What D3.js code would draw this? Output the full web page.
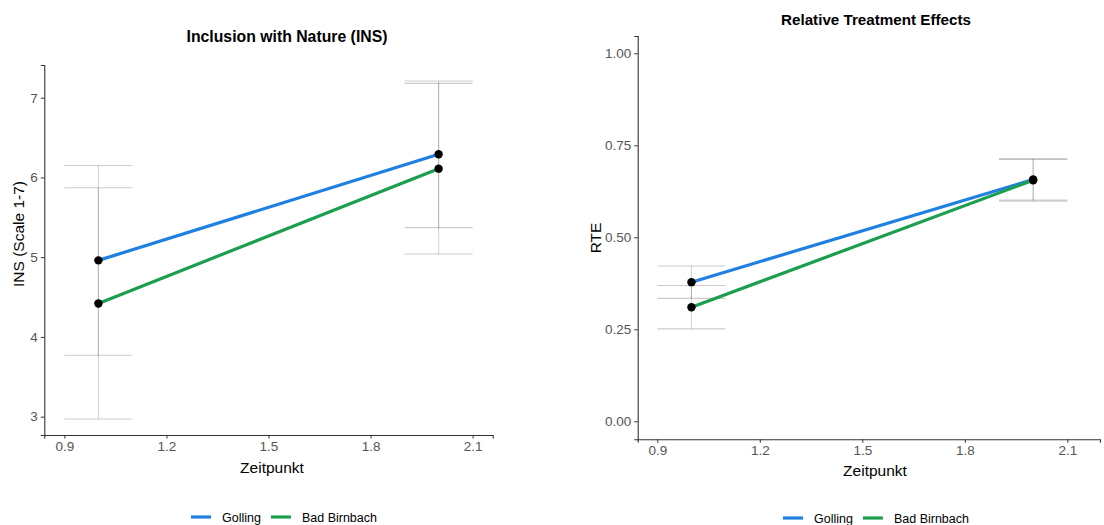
<!DOCTYPE html>
<html>
<head>
<meta charset="utf-8">
<script src="https://cdn.jsdelivr.net/npm/d3@7"></script>
<style>
  body { margin: 0; background: #fff; }
  svg { display: block; font-family: "Liberation Sans", Arial, sans-serif; }
</style>
</head>
<body>
<svg id="chart" width="1104" height="525"></svg>
<script>
// Measurement occasions
const timepoints = [1, 2];
const groups = ["Golling", "Bad Birnbach"];
const groupColors = ["#1f80e2", "#1b9f4f"];

// Inclusion with Nature (INS), means and error half-widths
const insGolling = [4.96, 6.29];
const insBadBirnbach = [4.42, 6.11];
const insGollingErr = [1.19, 0.92];
const insBadBirnbachErr = [1.45, 1.07];

// Relative treatment effects (RTE)
const rteGolling = [0.378, 0.657];
const rteBadBirnbach = [0.310, 0.655];
const rteGollingErr = [0.044, 0.056];
const rteBadBirnbachErr = [0.059, 0.057];

const xTicks = [0.9, 1.2, 1.5, 1.8, 2.1];
const insTicks = [3, 4, 5, 6, 7];
const rteTicks = [0, 0.25, 0.5, 0.75, 1];

const svg = d3.select("#chart");

function panel(cfg) {
  const x = d3.scaleLinear().domain(cfg.xDomain).range(cfg.xRange);
  const y = d3.scaleLinear().domain(cfg.yDomain).range(cfg.yRange);
  const g = svg.append("g");
  const bottom = cfg.yRange[0];
  const left = cfg.xRange[0];

  // error bars (caps 0.2 wide), semi-transparent grey
  cfg.series.forEach(s => {
    timepoints.forEach((t, i) => {
      const lo = s.values[i] - s.err[i], hi = s.values[i] + s.err[i];
      const eb = g.append("g").attr("stroke", "#000").attr("stroke-opacity", 0.2).attr("stroke-width", 1.1);
      eb.append("line").attr("x1", x(t)).attr("x2", x(t)).attr("y1", y(lo)).attr("y2", y(hi))
        .attr("stroke-opacity", 0.16);
      eb.append("line").attr("x1", x(t - 0.1)).attr("x2", x(t + 0.1)).attr("y1", y(hi)).attr("y2", y(hi));
      eb.append("line").attr("x1", x(t - 0.1)).attr("x2", x(t + 0.1)).attr("y1", y(lo)).attr("y2", y(lo));
    });
  });

  // group lines
  const line = d3.line().x((d, i) => x(timepoints[i])).y(d => y(d));
  cfg.series.forEach((s, k) => {
    g.append("path").datum(s.values).attr("d", line)
      .attr("fill", "none").attr("stroke", groupColors[k]).attr("stroke-width", 3.2)
      .attr("stroke-linecap", "butt");
  });

  // points
  cfg.series.forEach(s => {
    g.selectAll(null).data(s.values).enter().append("circle")
      .attr("cx", (d, i) => x(timepoints[i])).attr("cy", d => y(d)).attr("r", 4.2).attr("fill", "#000");
  });

  // axes
  const xAxis = g.append("g").attr("transform", `translate(0,${bottom})`)
    .call(d3.axisBottom(x).tickValues(xTicks).tickFormat(d3.format(".1f")).tickSize(3.5).tickPadding(3));
  const yAxis = g.append("g").attr("transform", `translate(${left},0)`)
    .call(d3.axisLeft(y).tickValues(cfg.yTicks).tickFormat(cfg.yFormat).tickSize(3.5).tickPadding(3));
  [xAxis, yAxis].forEach(a => {
    a.attr("font-size", 13.5).attr("font-family", "Liberation Sans, Arial, sans-serif");
    a.select(".domain").attr("stroke", "#333").attr("stroke-width", 1.1);
    a.selectAll(".tick line").attr("stroke", "#333");
    a.selectAll(".tick text").attr("fill", "#555").style("font-size", "13.5px");
  });

  // titles
  g.append("text").attr("x", cfg.titleX).attr("y", cfg.titleY).attr("text-anchor", "middle")
    .attr("font-weight", "bold").attr("font-size", cfg.titleSize).attr("fill", "#000").text(cfg.title);
  g.append("text").attr("x", cfg.xTitleX).attr("y", cfg.xTitleY).attr("text-anchor", "middle")
    .attr("font-size", 15.5).attr("fill", "#000").text("Zeitpunkt");
  g.append("text").attr("transform", `translate(${cfg.yTitleX},${cfg.yTitleY}) rotate(-90)`)
    .attr("text-anchor", "middle").attr("font-size", 15.5).attr("fill", "#000").text(cfg.yTitle);

  // legend
  const lg = g.append("g").attr("transform", `translate(${cfg.legendX},${cfg.legendY})`);
  let off = 0;
  groups.forEach((name, k) => {
    lg.append("line").attr("x1", off).attr("x2", off + 20).attr("y1", 0).attr("y2", 0)
      .attr("stroke", groupColors[k]).attr("stroke-width", 3.2);
    const t = lg.append("text").attr("x", off + 31).attr("y", 4.5).attr("font-size", 12.5)
      .attr("fill", "#000").text(name);
    off += 31 + t.node().getComputedTextLength() + 10;
  });
}

panel({
  xDomain: [0.841, 2.159], xRange: [44.3, 492.7],
  yDomain: [2.77, 7.41], yRange: [435, 65],
  yTicks: insTicks, yFormat: d3.format("d"),
  series: [
    { values: insGolling, err: insGollingErr },
    { values: insBadBirnbach, err: insBadBirnbachErr }
  ],
  title: "Inclusion with Nature (INS)", titleSize: 15.8, titleX: 287, titleY: 42,
  xTitleX: 272, xTitleY: 473,
  yTitle: "INS (Scale 1-7)", yTitleX: 24, yTitleY: 234,
  legendX: 191, legendY: 517
});

panel({
  xDomain: [0.8427, 2.1956], xRange: [637.7, 1100],
  yDomain: [-0.049, 1.047], yRange: [439.3, 36],
  yTicks: rteTicks, yFormat: d3.format(".2f"),
  series: [
    { values: rteGolling, err: rteGollingErr },
    { values: rteBadBirnbach, err: rteBadBirnbachErr }
  ],
  title: "Relative Treatment Effects", titleSize: 15.2, titleX: 876, titleY: 25,
  xTitleX: 875, xTitleY: 476,
  yTitle: "RTE", yTitleX: 601, yTitleY: 238,
  legendX: 783, legendY: 518
});
</script>
</body>
</html>
